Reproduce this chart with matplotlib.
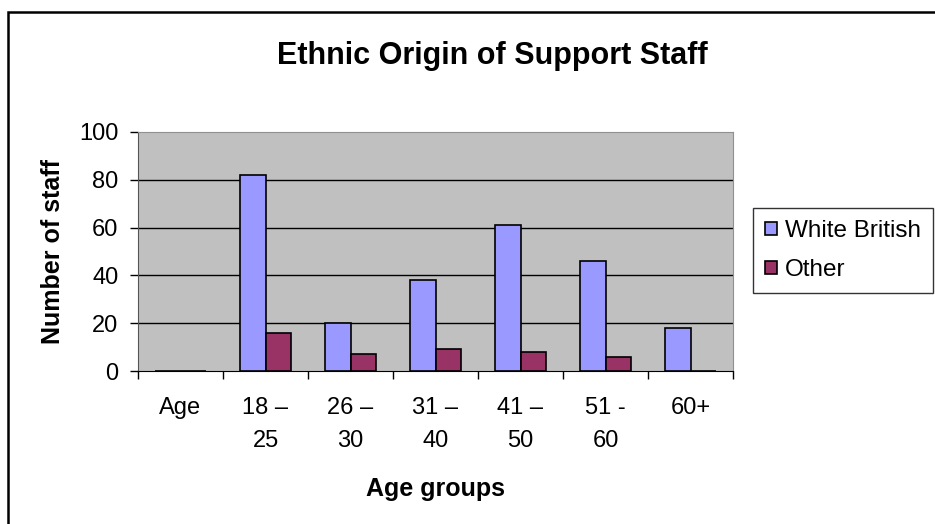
import numpy as np
import matplotlib
matplotlib.use("Agg")
import matplotlib.pyplot as plt
from matplotlib.patches import Rectangle

plt.rcParams['font.family'] = ['Liberation Sans', 'DejaVu Sans']

# data
groups = ['Age', '18 –\n25', '26 –\n30', '31 –\n40', '41 –\n50', '51 -\n60', '60+']
white_british = [0, 82, 20, 38, 61, 46, 18]
other = [0, 16, 7, 9, 8, 6, 0]
yticks = [0, 20, 40, 60, 80, 100]

fig = plt.figure(figsize=(9.35, 5.24), dpi=100)
ax = fig.add_axes([138 / 935, 1 - 371 / 524, 595 / 935, 239 / 524])

x = np.arange(len(groups))
w = 0.3
ax.bar(x - w / 2, white_british, w, color='#9999FF', edgecolor='black', linewidth=1.2,
       label='White British', zorder=3)
ax.bar(x + w / 2, other, w, color='#993366', edgecolor='black', linewidth=1.2,
       label='Other', zorder=3)

ax.set_facecolor('#C0C0C0')
ax.set_xlim(-0.5, len(groups) - 0.5)
ax.set_ylim(0, 100)
ax.set_yticks(yticks)
ax.set_yticklabels([str(t) for t in yticks], fontsize=17)
for t in yticks[1:-1]:
    ax.axhline(t, color='black', linewidth=1, zorder=1)

# category labels between the boundary ticks
ax.set_xticks(np.arange(len(groups) + 1) - 0.5)
ax.set_xticklabels([])
ax.set_xticks(x, minor=True)
ax.set_xticklabels(groups, minor=True, fontsize=17, linespacing=1.6, va='top')
ax.tick_params(axis='x', which='minor', length=0, pad=19)
ax.tick_params(axis='x', which='major', direction='out', length=6, width=1, color='black')
ax.tick_params(axis='y', direction='out', length=6, width=1, pad=8)

ax.spines['left'].set_color('#555555')
ax.spines['bottom'].set_color('black')
ax.spines['top'].set_color('#909090')
ax.spines['right'].set_color('#909090')

ax.set_ylabel('Number of staff', fontsize=18, fontweight='bold')
ax.yaxis.set_label_coords(-0.123, 0.5)
ax.set_xlabel('Age groups', fontsize=18, fontweight='bold')
ax.xaxis.set_label_coords(0.5, -0.445)

fig.text(492 / 935, 1 - 56 / 524, 'Ethnic Origin of Support Staff', fontsize=22,
         fontweight='bold', ha='center', va='center')

leg = fig.legend(loc='upper left', bbox_to_anchor=(753 / 935, 1 - 208 / 524),
                 fontsize=17.5, frameon=True, fancybox=False, edgecolor='black',
                 handlelength=0.5, handleheight=0.5, handletextpad=0.3,
                 borderpad=0.5, labelspacing=0.7, borderaxespad=0)
leg.get_frame().set_linewidth(1)

# outer chart border
fig.add_artist(Rectangle((8 / 935, -0.05), 1.1, 1 - 12 / 524 + 0.05, transform=fig.transFigure,
                         fill=False, edgecolor='black', linewidth=1.8))

fig.savefig('out.png', dpi=100)
